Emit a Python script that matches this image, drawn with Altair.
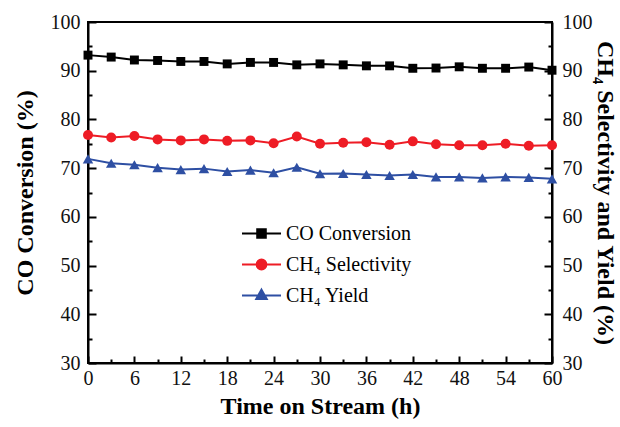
import altair as alt
import pandas as pd

hours = list(range(0, 61, 3))
co_conv = [93.2, 92.8, 92.2, 92.1, 91.9, 91.9, 91.4, 91.7, 91.7, 91.2, 91.4,
           91.2, 91.0, 91.0, 90.5, 90.55, 90.8, 90.5, 90.5, 90.75, 90.1]
ch4_sel = [76.8, 76.3, 76.6, 75.9, 75.7, 75.9, 75.6, 75.7, 75.1, 76.5, 75.0,
           75.2, 75.3, 74.8, 75.5, 74.9, 74.7, 74.7, 75.0, 74.6, 74.7]
ch4_yield = [71.9, 71.0, 70.7, 70.1, 69.7, 69.9, 69.3, 69.6, 69.05, 70.2, 68.85,
             68.9, 68.7, 68.5, 68.7, 68.2, 68.2, 68.0, 68.2, 68.1, 67.8]

series_names = ["CO Conversion", "CH\u2084 Selectivity", "CH\u2084 Yield"]
series_colors = ["#000000", "#ee1c25", "#2e4fa3"]
series_shapes = ["square", "circle", "triangle-up"]
series_sizes = [80, 100, 110]
legend_paths = [
    "M-1,0H1M-0.22,-0.22H0.22V0.22H-0.22Z",
    "M-1,0H1M0.25,0A0.25,0.25 0 1,1 -0.25,0A0.25,0.25 0 1,1 0.25,0Z",
    "M-1,0H1M0,-0.3L0.27,0.18H-0.27Z",
]

x_major = list(range(0, 61, 6))
x_minor = list(range(3, 61, 6))
y_major = list(range(30, 101, 10))
y_minor = list(range(35, 101, 10))

rows = []
for name, vals in zip(series_names, [co_conv, ch4_sel, ch4_yield]):
    for t, v in zip(hours, vals):
        rows.append({"t": t, "v": v, "series": name})
df = pd.DataFrame(rows)

xs = alt.Scale(domain=[0, 60], nice=False, zero=False)
ys = alt.Scale(domain=[30, 100], nice=False, zero=False)
base = alt.Chart(df)

FONT = "Liberation Serif"


def axis_layer(xaxis=None, yaxis=None):
    return base.mark_point(opacity=0).encode(
        x=alt.X("t:Q", scale=xs, axis=xaxis, title=None),
        y=alt.Y("v:Q", scale=ys, axis=yaxis, title=None),
    )


layers = []
# data lines and points
for name, col, shp, sz in zip(series_names, series_colors, series_shapes, series_sizes):
    sub = base.transform_filter(alt.datum.series == name)
    layers.append(sub.mark_line(color=col, strokeWidth=2).encode(
        x=alt.X("t:Q", scale=xs, axis=None),
        y=alt.Y("v:Q", scale=ys, axis=None)))
    layers.append(sub.mark_point(color=col, shape=shp, filled=True, size=sz, opacity=1).encode(
        x=alt.X("t:Q", scale=xs, axis=None),
        y=alt.Y("v:Q", scale=ys, axis=None)))

# bottom axis: labels + title
layers.append(axis_layer(xaxis=alt.Axis(
    orient="bottom", values=x_major, ticks=False, domain=True, domainWidth=2,
    domainColor="black", labelPadding=5, titlePadding=6, labelFlush=False,
    title="Time on Stream (h)")))
layers.append(axis_layer(xaxis=alt.Axis(
    orient="bottom", values=x_major, offset=-7, tickSize=7, tickWidth=2,
    tickColor="black", labels=False, domain=False)))
layers.append(axis_layer(xaxis=alt.Axis(
    orient="bottom", values=x_minor, offset=-4, tickSize=4, tickWidth=2,
    tickColor="black", labels=False, domain=False)))
# left axis
layers.append(axis_layer(yaxis=alt.Axis(
    orient="left", values=y_major, ticks=False, domain=True, domainWidth=2,
    domainColor="black", labelPadding=8, titlePadding=13, labelFlush=False,
    title="CO Conversion (%)")))
layers.append(axis_layer(yaxis=alt.Axis(
    orient="left", values=y_major, offset=-8, tickSize=8, tickWidth=2,
    tickColor="black", labels=False, domain=False)))
layers.append(axis_layer(yaxis=alt.Axis(
    orient="left", values=y_minor, offset=-4, tickSize=4, tickWidth=2,
    tickColor="black", labels=False, domain=False)))
# right axis
layers.append(axis_layer(yaxis=alt.Axis(
    orient="right", values=y_major, ticks=False, domain=True, domainWidth=2,
    domainColor="black", labelPadding=10, titlePadding=0, labelFlush=False,
    title="CH\u2084 Selectivity and Yield (%)")))
layers.append(axis_layer(yaxis=alt.Axis(
    orient="right", values=y_major, offset=-8, tickSize=8, tickWidth=2,
    tickColor="black", labels=False, domain=False)))
layers.append(axis_layer(yaxis=alt.Axis(
    orient="right", values=y_minor, offset=-4, tickSize=4, tickWidth=2,
    tickColor="black", labels=False, domain=False)))

# legend layer (draws no data marks)
leg = alt.Legend(title=None, orient="none", legendX=153, legendY=191,
                 symbolSize=1521, symbolStrokeWidth=2, symbolOpacity=1,
                 rowPadding=-8, labelOffset=4, labelFont=FONT, labelFontSize=20,
                 labelColor="black")
fill_scale = alt.Scale(domain=series_names, range=series_colors)
shape_scale = alt.Scale(domain=series_names, range=legend_paths)
layers.append(base.transform_filter("false").mark_point(filled=True, strokeWidth=2, opacity=1).encode(
    fill=alt.Fill("series:N", scale=fill_scale, legend=leg),
    stroke=alt.Stroke("series:N", scale=fill_scale, legend=leg),
    shape=alt.Shape("series:N", scale=shape_scale, legend=leg),
))

chart = alt.layer(*layers).resolve_axis(x="independent", y="independent").properties(
    width=464, height=341,
    background="white",
    autosize=alt.AutoSizeParams(type="none"),
    padding={"left": 88, "top": 22, "right": 68, "bottom": 64},
).configure_view(stroke="black", strokeWidth=2).configure_axis(
    grid=False, labelFont=FONT, labelFontSize=20, labelColor="#111111",
    titleFont=FONT, titleFontSize=24, titleFontWeight="bold", titleColor="black",
)

chart.save("out.html", embed_options={"renderer": "svg", "actions": False})
